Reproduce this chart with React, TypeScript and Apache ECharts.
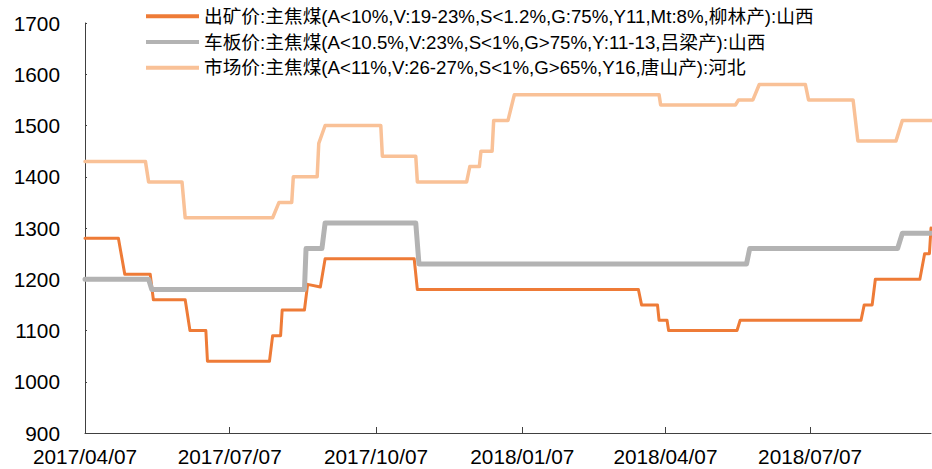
import React, { useEffect, useRef } from "react";
import * as echarts from "echarts";

const seriesNames = [
  "出矿价:主焦煤(A<10%,V:19-23%,S<1.2%,G:75%,Y11,Mt:8%,柳林产):山西",
  "车板价:主焦煤(A<10.5%,V:23%,S<1%,G>75%,Y:11-13,吕梁产):山西",
  "市场价:主焦煤(A<11%,V:26-27%,S<1%,G>65%,Y16,唐山产):河北",
];

const mineDates = [
  "2017-04-07", "2017-04-28", "2017-05-02", "2017-05-18", "2017-05-20", "2017-06-09",
  "2017-06-12", "2017-06-22", "2017-06-23", "2017-08-01", "2017-08-03", "2017-08-08",
  "2017-08-09", "2017-08-23", "2017-08-25", "2017-09-02", "2017-09-05", "2017-10-31",
  "2017-11-02", "2018-03-21", "2018-03-23", "2018-04-02", "2018-04-03", "2018-04-08",
  "2018-04-09", "2018-05-22", "2018-05-24", "2018-08-08", "2018-08-10", "2018-08-15",
  "2018-08-17", "2018-09-14", "2018-09-17", "2018-09-20", "2018-09-21",
];
const mineValues = [
  1280, 1280, 1210, 1210, 1160, 1160,
  1100, 1100, 1040, 1040, 1090, 1090,
  1140, 1140, 1190, 1185, 1240, 1240,
  1180, 1180, 1150, 1150, 1120, 1120,
  1100, 1100, 1120, 1120, 1150, 1150,
  1200, 1200, 1250, 1250, 1300,
];

const plateDates = [
  "2017-04-07", "2017-05-17", "2017-05-19", "2017-08-23", "2017-08-24", "2017-09-03",
  "2017-09-05", "2017-11-01", "2017-11-03", "2018-05-28", "2018-05-30", "2018-08-31",
  "2018-09-03", "2018-09-21",
];
const plateValues = [
  1200, 1200, 1180, 1180, 1260, 1260,
  1310, 1310, 1230, 1230, 1260, 1260,
  1290, 1290,
];

const marketDates = [
  "2017-04-07", "2017-05-15", "2017-05-17", "2017-06-07", "2017-06-09", "2017-08-03",
  "2017-08-07", "2017-08-15", "2017-08-16", "2017-08-31", "2017-09-01", "2017-09-05",
  "2017-10-10", "2017-10-11", "2017-11-01", "2017-11-02", "2017-12-03", "2017-12-05",
  "2017-12-11", "2017-12-12", "2017-12-19", "2017-12-20", "2017-12-29", "2018-01-02",
  "2018-04-03", "2018-04-04", "2018-05-21", "2018-05-23", "2018-06-01", "2018-06-05",
  "2018-07-04", "2018-07-06", "2018-08-03", "2018-08-06", "2018-08-30", "2018-09-03",
  "2018-09-21",
];
const marketValues = [
  1430, 1430, 1390, 1390, 1320, 1320,
  1350, 1350, 1400, 1400, 1465, 1500,
  1500, 1440, 1440, 1390, 1390, 1420,
  1420, 1450, 1450, 1510, 1510, 1560,
  1560, 1540, 1540, 1550, 1550, 1580,
  1580, 1550, 1550, 1470, 1470, 1510,
  1510,
];

const xTickLabels = ["2017-04-07", "2017-07-07", "2017-10-07", "2018-01-07", "2018-04-07", "2018-07-07"];
const xMin = "2017-04-07";
const xMax = "2018-09-21";
const yMin = 900;
const yMax = 1700;
const yInterval = 100;

const colors = ["#EE7B37", "#B3B3B3", "#F9C197"];
const widths = [3, 5, 3.5];

function ts(s: string): number {
  const [y, m, d] = s.split("-").map(Number);
  return new Date(y, m - 1, d).getTime();
}

const FONT = "'Liberation Sans', Arial, 'Noto Sans CJK SC', sans-serif";

export default function App() {
  const ref = useRef<HTMLDivElement>(null);
  useEffect(() => {
    if (!ref.current) return;
    const chart = echarts.init(ref.current, undefined, { renderer: "svg" });
    const allDates = [mineDates, plateDates, marketDates];
    const allValues = [mineValues, plateValues, marketValues];
    const tickTs = xTickLabels.map(ts);
    chart.setOption({
      animation: false,
      textStyle: { fontFamily: FONT },
      grid: { left: 85, right: 1, top: 23, bottom: 36, containLabel: false },
      legend: {
        show: true,
        orient: "vertical",
        left: 146,
        top: 7,
        padding: 0,
        icon: "rect",
        itemWidth: 53,
        itemHeight: 4,
        itemGap: 7,
        textStyle: { fontSize: 18.7, color: "#000", fontFamily: FONT },
        data: seriesNames,
      },
      xAxis: {
        type: "value",
        min: ts(xMin),
        max: ts(xMax),
        axisLine: { show: true, lineStyle: { color: "#404040", width: 1 } },
        axisTick: {
          show: true,
          inside: true,
          length: 6,
          customValues: tickTs,
          lineStyle: { color: "#404040" },
        },
        axisLabel: {
          show: true,
          customValues: tickTs,
          fontSize: 20.8,
          color: "#000",
          margin: 13,
          fontFamily: FONT,
          formatter: (v: number) => {
            const d = new Date(v);
            const mm = String(d.getMonth() + 1).padStart(2, "0");
            const dd = String(d.getDate()).padStart(2, "0");
            return `${d.getFullYear()}/${mm}/${dd}`;
          },
        },
        splitLine: { show: false },
      },
      yAxis: {
        type: "value",
        min: yMin,
        max: yMax,
        interval: yInterval,
        axisLine: { show: true, lineStyle: { color: "#404040", width: 1 } },
        axisTick: { show: true, inside: true, length: 2, lineStyle: { color: "#404040" } },
        axisLabel: {
          fontSize: 20.8,
          color: "#000",
          margin: 25,
          fontFamily: FONT,
          formatter: (v: number) => String(v),
        },
        splitLine: { show: false },
      },
      series: seriesNames.map((name, i) => ({
        name,
        type: "line",
        symbol: "none",
        showSymbol: false,
        smooth: false,
        color: colors[i],
        itemStyle: { color: colors[i] },
        lineStyle: { color: colors[i], width: widths[i], cap: "round", join: "round" },
        data: allDates[i].map((d, j) => [ts(d), allValues[i][j]]),
      })),
    });
    return () => chart.dispose();
  }, []);
  return <div ref={ref} style={{ width: 932, height: 469, position: "absolute", left: 0, top: 0 }} />;
}
